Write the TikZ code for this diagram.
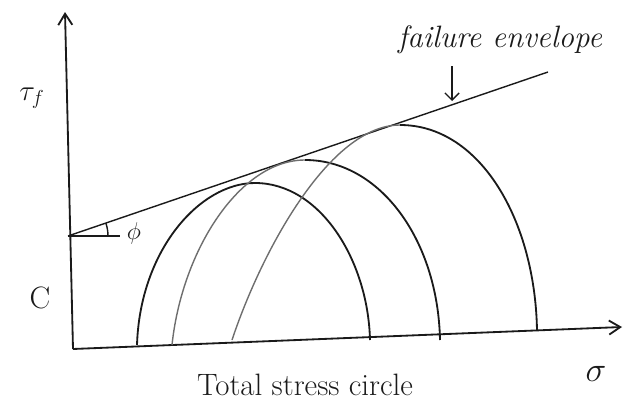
\documentclass[tikz,border=0pt]{standalone}
\usepackage{amsmath,amssymb}
\usepackage{tikz}
\usetikzlibrary{arrows.meta,positioning,calc}
\definecolor{ink}{HTML}{1A1A1A}
\definecolor{pencil}{HTML}{6E6E6E}

\begin{document}
\begin{tikzpicture}[
    x=0.025cm, y=-0.025cm,
    axis/.style={line width=1.3pt, color=ink, -{Straight Barb[length=8pt,width=10pt]}},
    envelope/.style={line width=1pt, color=ink},
    mohr/.style={line width=1.3pt, color=ink},
    mohrlight/.style={line width=1pt, color=pencil},
    hand/.style={font=\fontsize{22}{26}\selectfont, text=ink},
    arrow/.style={-{Straight Barb[length=5pt]}, line width=1pt, color=ink}
]
\useasboundingbox (0,0) rectangle (627,414);

% axes
\coordinate (O) at (73,349);
\coordinate (ytop) at (65,12);
\coordinate (xend) at (622,327);
\draw[axis] (O) -- (ytop);
\draw[axis] (O) -- (xend);

% failure envelope
\coordinate (e0) at (68,236);
\coordinate (e1) at (548,72);
\draw[envelope] (e0) -- (e1);

% angle phi
\coordinate (phiend) at (120,236);
\draw[envelope] (e0) -- (phiend);
\draw[envelope] (108,236) arc[start angle=0, end angle=-19, radius=40];
\node[hand, font=\fontsize{18}{20}\selectfont] (phi) at (134,233) {$\phi$};

% total stress circles
\draw[mohr] (137,345) .. controls (140,250) and (200,183) .. (255,183)
    .. controls (320,183) and (368,260) .. (370,340);
\draw[mohrlight] (172,345) .. controls (182,250) and (240,160) .. (305,160);
\draw[mohr] (305,160) .. controls (380,160) and (438,240) .. (440,340);
\draw[mohrlight] (232,340) .. controls (262,250) and (330,125) .. (400,125);
\draw[mohr] (400,125) .. controls (480,125) and (535,220) .. (537,330);

% labels
\node[hand] (tauf) at (32,98) {$\tau_f$};
\node[hand] (coh) at (40,298) {C};
\node[hand, font=\fontsize{24}{28}\selectfont] (sigma) at (596,374) {$\sigma$};
\node[hand, font=\itshape\fontsize{22}{26}\selectfont] (envlabel) at (500,40) {failure envelope};
\node[hand] (circlabel) at (305,385) {Total stress circle};
\draw[arrow] (452,66) -- (452,101);

\end{tikzpicture}
\end{document}
